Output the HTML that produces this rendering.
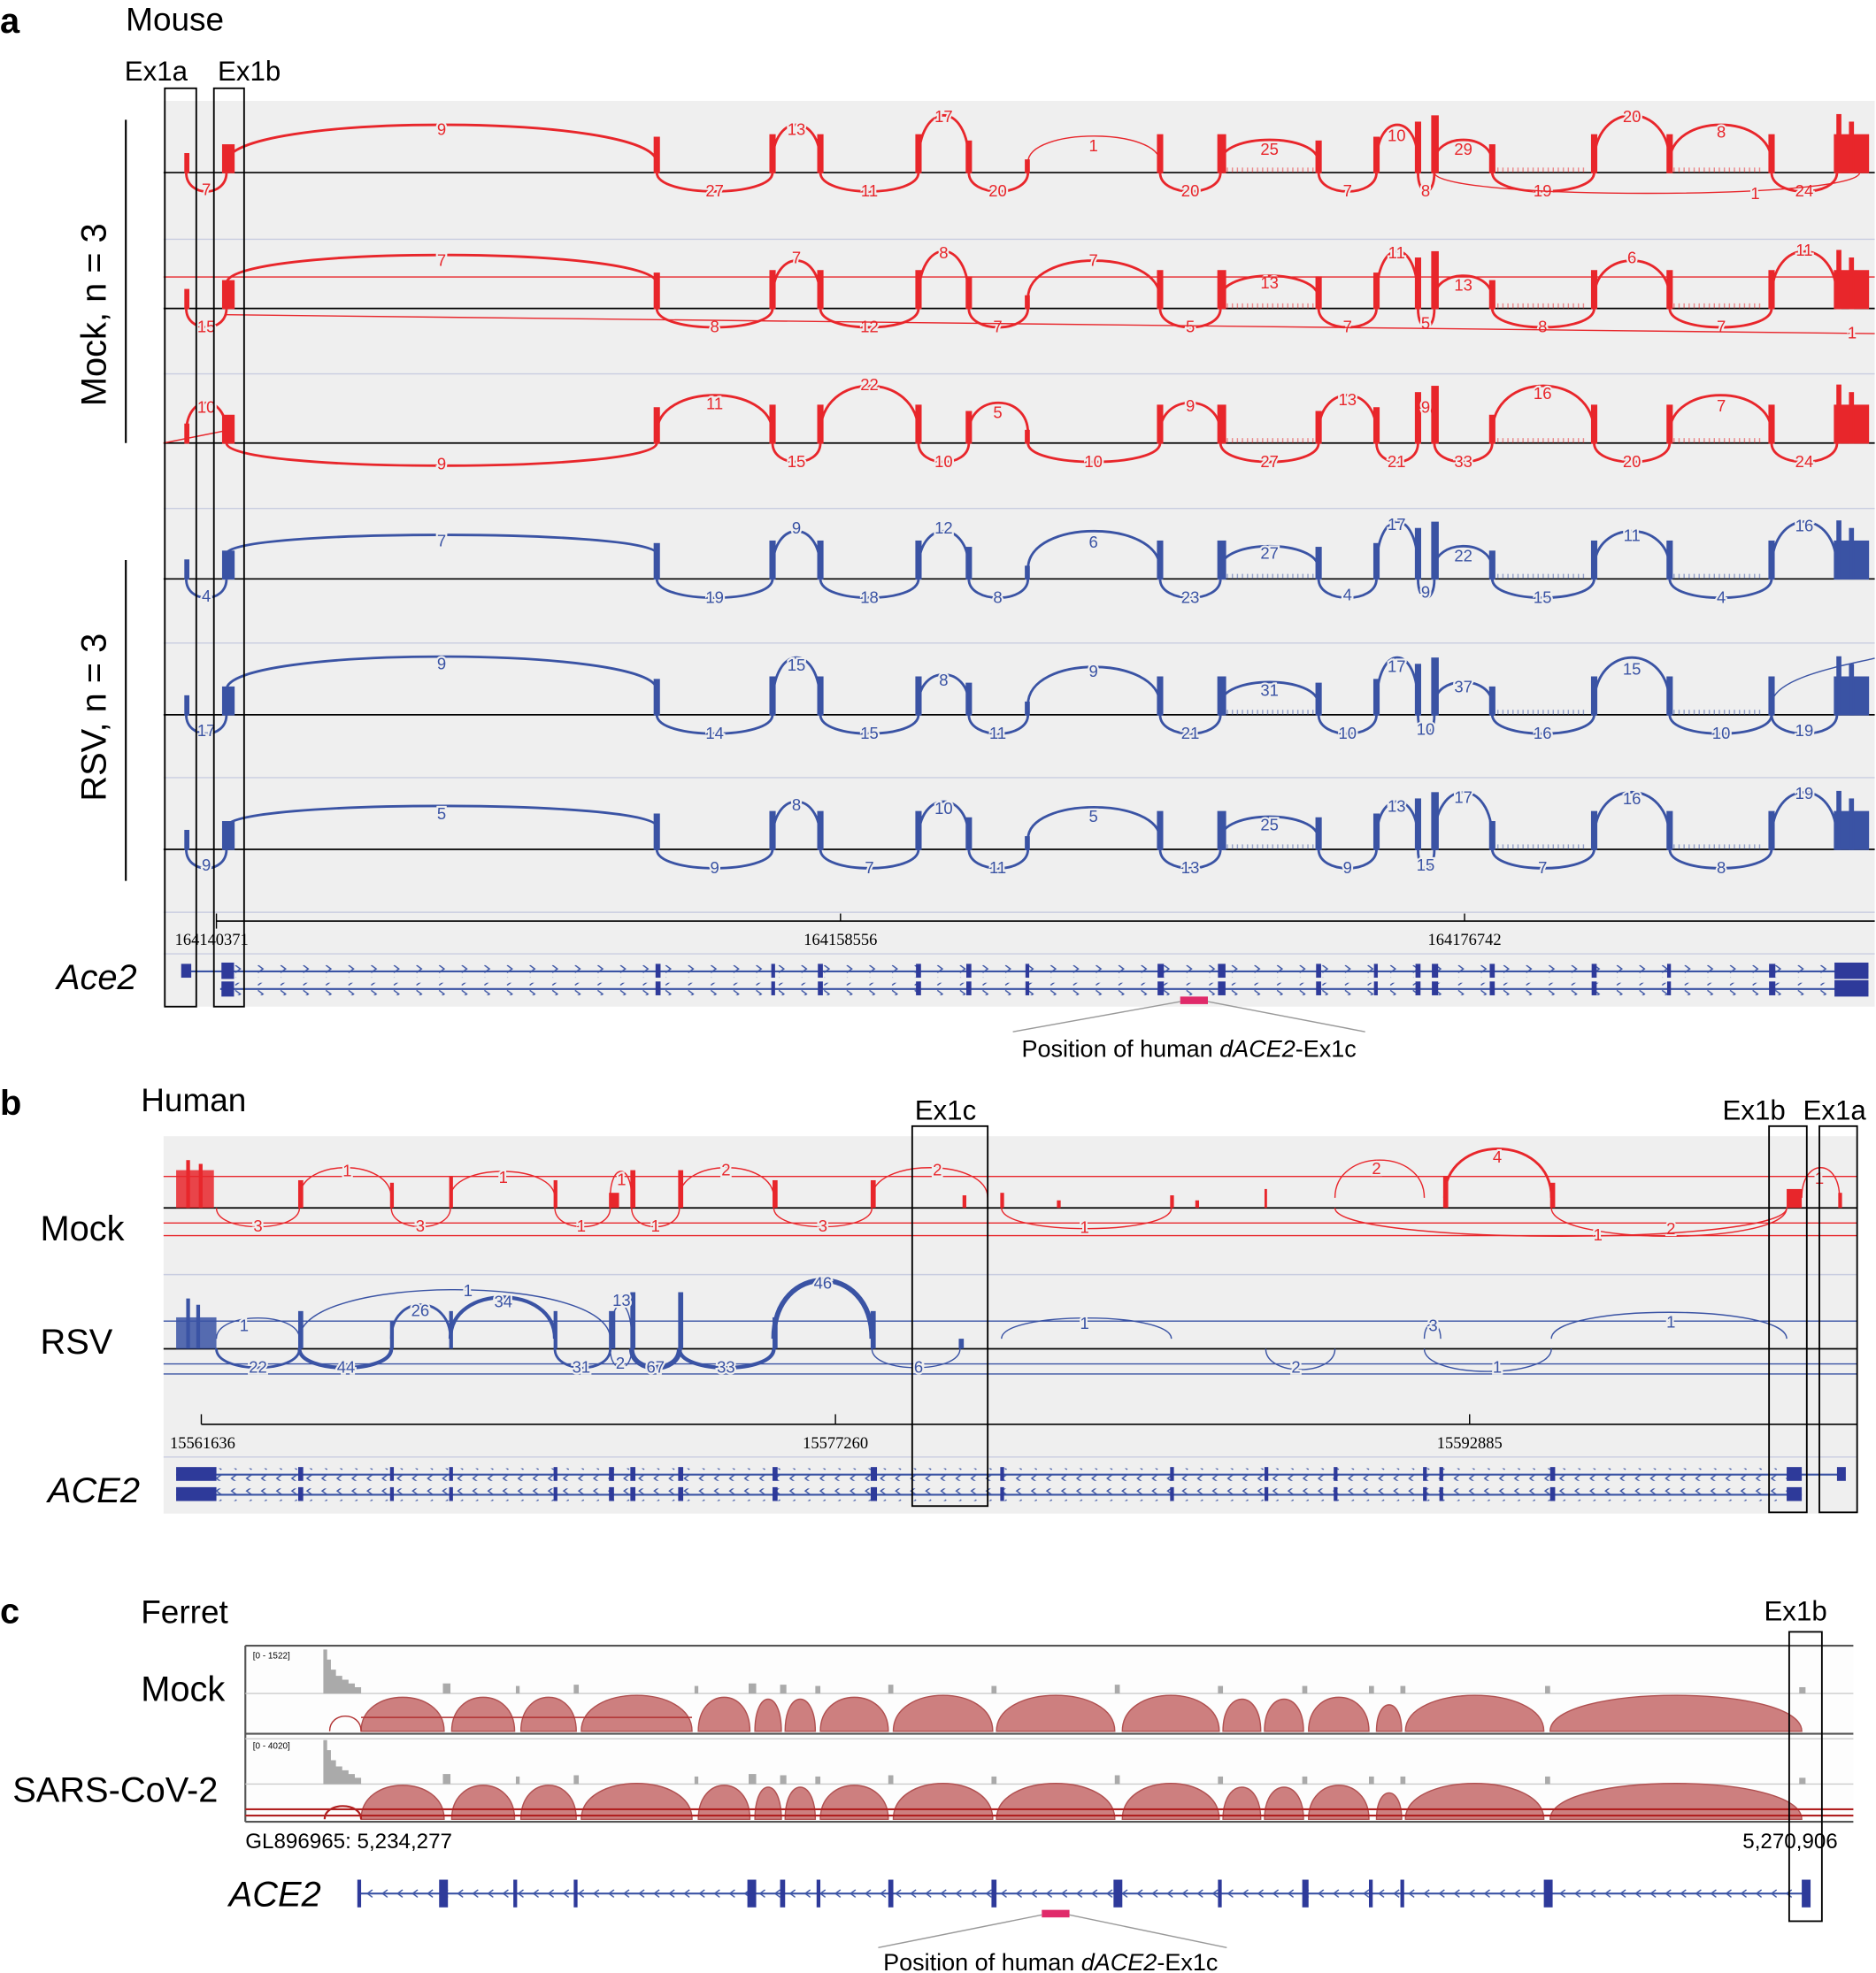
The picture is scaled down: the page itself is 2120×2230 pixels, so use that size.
<!DOCTYPE html>
<html><head><meta charset="utf-8"><style>
html,body{margin:0;padding:0;background:#fff}
svg{display:block}
.t{font-family:"Liberation Sans",sans-serif}
.l{font-family:"Liberation Sans",sans-serif;font-size:13px;text-anchor:middle;paint-order:stroke;stroke:#efefef;stroke-width:3px}
.r path{stroke:#e8262b;fill:none;stroke-width:2}
.r .l{fill:#e8262b}
.b path{stroke:#3a53a4;fill:none;stroke-width:2}
.b .l{fill:#3a53a4}
.tk{font-family:"Liberation Serif",serif;font-size:13px;text-anchor:middle}
</style></head><body>
<svg width="2120" height="2230" viewBox="0 0 1491 1568" xmlns="http://www.w3.org/2000/svg">
<defs>
<g id="cov">
<rect x="147" y="-15" width="3" height="15"/><rect x="177" y="-22" width="9" height="22"/><rect x="520" y="-28" width="4" height="28"/>
<rect x="612" y="-30" width="4" height="30"/><rect x="650" y="-30" width="4" height="30"/><rect x="728" y="-30" width="4" height="30"/>
<rect x="768" y="-25" width="4" height="25"/><rect x="815" y="-10" width="3" height="10"/><rect x="920" y="-30" width="4" height="30"/>
<rect x="968" y="-30" width="6" height="30"/><rect x="1046" y="-25" width="4" height="25"/><rect x="1092" y="-28" width="4" height="28"/>
<rect x="1125" y="-40" width="4" height="40"/><rect x="1138" y="-45" width="5" height="45"/><rect x="1184" y="-22" width="4" height="22"/>
<rect x="1265" y="-30" width="4" height="30"/><rect x="1325" y="-30" width="4" height="30"/><rect x="1406" y="-30" width="4" height="30"/>
<rect x="1458" y="-30" width="27" height="30"/><rect x="1460" y="-46" width="3" height="46"/><rect x="1470" y="-40" width="3" height="40"/>
<path d="M1190 -2H1260M1330 -2H1400M975 -2H1045" stroke-dasharray="1 3" stroke-width="4" opacity=".5"/>
</g>
<pattern id="ar" width="18" height="10" patternUnits="userSpaceOnUse" y="-5"><path d="M7 2 L11 5 L7 8" stroke="#3a53a4" fill="none" stroke-width="1"/></pattern>
<pattern id="al" width="12" height="10" patternUnits="userSpaceOnUse"><path d="M8 2 L4 5 L8 8" stroke="#3a53a4" fill="none" stroke-width="1"/></pattern>
</defs>

<!-- PANEL A -->
<text x="0" y="26" class="t" font-size="28" font-weight="bold">a</text>
<text x="100" y="24" class="t" font-size="26">Mouse</text>
<text x="99" y="64" class="t" font-size="22">Ex1a</text>
<text x="173" y="64" class="t" font-size="22">Ex1b</text>
<rect x="130" y="80" width="1360" height="720" fill="#efefef"/>
<g stroke="#c9cde0" stroke-width="1">
<line x1="130" y1="190" x2="1490" y2="190"/><line x1="130" y1="297" x2="1490" y2="297"/><line x1="130" y1="404" x2="1490" y2="404"/>
<line x1="130" y1="511" x2="1490" y2="511"/><line x1="130" y1="618" x2="1490" y2="618"/><line x1="130" y1="725" x2="1490" y2="725"/><line x1="130" y1="758" x2="1490" y2="758"/></g>
<g stroke="#000" stroke-width="1.2">
<line x1="130" y1="137" x2="1490" y2="137"/><line x1="130" y1="245" x2="1490" y2="245"/><line x1="130" y1="352" x2="1490" y2="352"/>
<line x1="130" y1="460" x2="1490" y2="460"/><line x1="130" y1="568" x2="1490" y2="568"/><line x1="130" y1="675" x2="1490" y2="675"/></g>
<line x1="100" y1="95" x2="100" y2="352" stroke="#000" stroke-width="1.5"/>
<line x1="100" y1="445" x2="100" y2="700" stroke="#000" stroke-width="1.5"/>
<text transform="translate(84,250) rotate(-90)" class="t" font-size="28" text-anchor="middle">Mock, n = 3</text>
<text transform="translate(84,570) rotate(-90)" class="t" font-size="28" text-anchor="middle">RSV, n = 3</text>

<g class="r" transform="translate(0,137)"><use href="#cov" fill="#e8262b" stroke="#e8262b"/>
<path d="M180 -8C180 -48 522 -48 522 -8"/><text class="l" x="351" y="-30">9</text>
<path d="M614 -8C614 -48 652 -48 652 -8"/><text class="l" x="633" y="-30">13</text>
<path d="M730 -8C730 -58 770 -58 770 -8"/><text class="l" x="750" y="-40">17</text>
<path d="M817 -8C817 -36 922 -36 922 -8" style="stroke-width:1"/><text class="l" x="869" y="-17">1</text>
<path d="M970 -8C970 -32 1048 -32 1048 -8"/><text class="l" x="1009" y="-14">25</text>
<path d="M1094 -8C1094 -48 1127 -48 1127 -8"/><text class="l" x="1110" y="-25">10</text>
<path d="M1140 -8C1140 -32 1186 -32 1186 -8"/><text class="l" x="1163" y="-14">29</text>
<path d="M1267 -8C1267 -58 1327 -58 1327 -8"/><text class="l" x="1297" y="-40">20</text>
<path d="M1327 -8C1327 -48 1408 -48 1408 -8"/><text class="l" x="1368" y="-28">8</text>
<path d="M148 0C148 20 180 20 180 0"/><text class="l" x="164" y="18">7</text>
<path d="M522 0C522 20 614 20 614 0"/><text class="l" x="568" y="19">27</text>
<path d="M652 0C652 20 730 20 730 0"/><text class="l" x="691" y="19">11</text>
<path d="M770 0C770 20 817 20 817 0"/><text class="l" x="793" y="19">20</text>
<path d="M922 0C922 20 970 20 970 0"/><text class="l" x="946" y="19">20</text>
<path d="M1048 0C1048 20 1094 20 1094 0"/><text class="l" x="1071" y="19">7</text>
<path d="M1127 0C1127 20 1140 20 1140 0"/><text class="l" x="1133" y="19">8</text>
<path d="M1186 0C1186 20 1267 20 1267 0"/><text class="l" x="1226" y="19">19</text>
<path d="M1408 0C1408 20 1460 20 1460 0"/><text class="l" x="1434" y="19">24</text>
<path d="M1140 0C1140 22 1478 22 1478 0" style="stroke-width:1"/><text class="l" x="1395" y="21">1</text>
</g>
<g class="r" transform="translate(0,245)"><use href="#cov" fill="#e8262b" stroke="#e8262b"/>
<path d="M180 -20C180 -50 522 -50 522 -20"/><text class="l" x="351" y="-34">7</text>
<path d="M614 -8C614 -48 652 -48 652 -8"/><text class="l" x="633" y="-36">7</text>
<path d="M730 -8C730 -58 770 -58 770 -8"/><text class="l" x="750" y="-40">8</text>
<path d="M817 -8C817 -48 922 -48 922 -8"/><text class="l" x="869" y="-34">7</text>
<path d="M970 -8C970 -32 1048 -32 1048 -8"/><text class="l" x="1009" y="-16">13</text>
<path d="M1094 -8C1094 -58 1127 -58 1127 -8"/><text class="l" x="1110" y="-40">11</text>
<path d="M1140 -8C1140 -32 1186 -32 1186 -8"/><text class="l" x="1163" y="-14">13</text>
<path d="M1267 -8C1267 -48 1327 -48 1327 -8"/><text class="l" x="1297" y="-36">6</text>
<path d="M1408 -8C1408 -58 1460 -58 1460 -8"/><text class="l" x="1434" y="-42">11</text>
<path d="M130 -25L1490 -25" style="stroke-width:1"/>
<path d="M148 0C148 20 180 20 180 0"/><text class="l" x="164" y="19">15</text>
<path d="M522 0C522 20 614 20 614 0"/><text class="l" x="568" y="19">8</text>
<path d="M652 0C652 20 730 20 730 0"/><text class="l" x="691" y="19">12</text>
<path d="M770 0C770 20 817 20 817 0"/><text class="l" x="793" y="19">7</text>
<path d="M922 0C922 20 970 20 970 0"/><text class="l" x="946" y="19">5</text>
<path d="M1048 0C1048 20 1094 20 1094 0"/><text class="l" x="1071" y="19">7</text>
<path d="M1127 0C1127 20 1140 20 1140 0"/><text class="l" x="1133" y="16">5</text>
<path d="M1186 0C1186 20 1267 20 1267 0"/><text class="l" x="1226" y="19">8</text>
<path d="M1327 0C1327 20 1408 20 1408 0"/><text class="l" x="1368" y="19">7</text>
<path d="M180 5L1490 20" style="stroke-width:1"/><text class="l" x="1472" y="24">1</text>
</g>
<g class="r" transform="translate(0,352)"><use href="#cov" fill="#e8262b" stroke="#e8262b"/>
<path d="M522 -8C522 -48 614 -48 614 -8"/><text class="l" x="568" y="-27">11</text>
<path d="M652 -8C652 -58 730 -58 730 -8"/><text class="l" x="691" y="-42">22</text>
<path d="M770 -8C770 -40 817 -40 817 -8"/><text class="l" x="793" y="-20">5</text>
<path d="M922 -8C922 -40 970 -40 970 -8"/><text class="l" x="946" y="-25">9</text>
<path d="M1048 -8C1048 -48 1094 -48 1094 -8"/><text class="l" x="1071" y="-30">13</text>
<path d="M1127 -8C1127 -40 1140 -40 1140 -8"/><text class="l" x="1133" y="-24">9</text>
<path d="M1186 -8C1186 -58 1267 -58 1267 -8"/><text class="l" x="1226" y="-35">16</text>
<path d="M1327 -8C1327 -48 1408 -48 1408 -8"/><text class="l" x="1368" y="-25">7</text>
<path d="M148 -8C148 -40 180 -40 180 -8"/><text class="l" x="164" y="-24">10</text>
<path d="M180 0C180 24 522 24 522 0"/><text class="l" x="351" y="21">9</text>
<path d="M614 0C614 20 652 20 652 0"/><text class="l" x="633" y="19">15</text>
<path d="M730 0C730 20 770 20 770 0"/><text class="l" x="750" y="19">10</text>
<path d="M817 0C817 20 922 20 922 0"/><text class="l" x="869" y="19">10</text>
<path d="M970 0C970 20 1048 20 1048 0"/><text class="l" x="1009" y="19">27</text>
<path d="M1094 0C1094 20 1127 20 1127 0"/><text class="l" x="1110" y="19">21</text>
<path d="M1140 0C1140 20 1186 20 1186 0"/><text class="l" x="1163" y="19">33</text>
<path d="M1267 0C1267 20 1327 20 1327 0"/><text class="l" x="1297" y="19">20</text>
<path d="M1408 0C1408 20 1460 20 1460 0"/><text class="l" x="1434" y="19">24</text>
<path d="M130 0L180 -10" style="stroke-width:1"/>
</g>
<g class="b" transform="translate(0,460)"><use href="#cov" fill="#3a53a4" stroke="#3a53a4"/>
<path d="M180 -20C180 -40 522 -40 522 -20"/><text class="l" x="351" y="-26">7</text>
<path d="M614 -8C614 -48 652 -48 652 -8"/><text class="l" x="633" y="-36">9</text>
<path d="M730 -8C730 -48 770 -48 770 -8"/><text class="l" x="750" y="-36">12</text>
<path d="M817 -8C817 -48 922 -48 922 -8"/><text class="l" x="869" y="-25">6</text>
<path d="M970 -8C970 -32 1048 -32 1048 -8"/><text class="l" x="1009" y="-16">27</text>
<path d="M1094 -8C1094 -58 1127 -58 1127 -8"/><text class="l" x="1110" y="-39">17</text>
<path d="M1140 -8C1140 -32 1186 -32 1186 -8"/><text class="l" x="1163" y="-14">22</text>
<path d="M1267 -8C1267 -48 1327 -48 1327 -8"/><text class="l" x="1297" y="-30">11</text>
<path d="M1408 -8C1408 -58 1460 -58 1460 -8"/><text class="l" x="1434" y="-38">16</text>
<path d="M148 0C148 20 180 20 180 0"/><text class="l" x="164" y="18">4</text>
<path d="M522 0C522 20 614 20 614 0"/><text class="l" x="568" y="19">19</text>
<path d="M652 0C652 20 730 20 730 0"/><text class="l" x="691" y="19">18</text>
<path d="M770 0C770 20 817 20 817 0"/><text class="l" x="793" y="19">8</text>
<path d="M922 0C922 20 970 20 970 0"/><text class="l" x="946" y="19">23</text>
<path d="M1048 0C1048 20 1094 20 1094 0"/><text class="l" x="1071" y="17">4</text>
<path d="M1127 0C1127 20 1140 20 1140 0"/><text class="l" x="1133" y="15">9</text>
<path d="M1186 0C1186 20 1267 20 1267 0"/><text class="l" x="1226" y="19">15</text>
<path d="M1327 0C1327 20 1408 20 1408 0"/><text class="l" x="1368" y="19">4</text>
</g>
<g class="b" transform="translate(0,568)"><use href="#cov" fill="#3a53a4" stroke="#3a53a4"/>
<path d="M180 -20C180 -55 522 -55 522 -20"/><text class="l" x="351" y="-36">9</text>
<path d="M614 -8C614 -58 652 -58 652 -8"/><text class="l" x="633" y="-35">15</text>
<path d="M730 -8C730 -40 770 -40 770 -8"/><text class="l" x="750" y="-23">8</text>
<path d="M817 -8C817 -48 922 -48 922 -8"/><text class="l" x="869" y="-30">9</text>
<path d="M970 -8C970 -32 1048 -32 1048 -8"/><text class="l" x="1009" y="-15">31</text>
<path d="M1094 -8C1094 -58 1127 -58 1127 -8"/><text class="l" x="1110" y="-34">17</text>
<path d="M1140 -8C1140 -32 1186 -32 1186 -8"/><text class="l" x="1163" y="-18">37</text>
<path d="M1267 -8C1267 -58 1327 -58 1327 -8"/><text class="l" x="1297" y="-32">15</text>
<path d="M1408 -8C1408 -30 1470 -40 1490 -45" style="stroke-width:1"/>
<path d="M148 0C148 20 180 20 180 0"/><text class="l" x="164" y="17">17</text>
<path d="M522 0C522 20 614 20 614 0"/><text class="l" x="568" y="19">14</text>
<path d="M652 0C652 20 730 20 730 0"/><text class="l" x="691" y="19">15</text>
<path d="M770 0C770 20 817 20 817 0"/><text class="l" x="793" y="19">11</text>
<path d="M922 0C922 20 970 20 970 0"/><text class="l" x="946" y="19">21</text>
<path d="M1048 0C1048 20 1094 20 1094 0"/><text class="l" x="1071" y="19">10</text>
<path d="M1127 0C1127 20 1140 20 1140 0"/><text class="l" x="1133" y="16">10</text>
<path d="M1186 0C1186 20 1267 20 1267 0"/><text class="l" x="1226" y="19">16</text>
<path d="M1327 0C1327 20 1408 20 1408 0"/><text class="l" x="1368" y="19">10</text>
<path d="M1408 0C1408 20 1460 20 1460 0"/><text class="l" x="1434" y="17">19</text>
</g>
<g class="b" transform="translate(0,675)"><use href="#cov" fill="#3a53a4" stroke="#3a53a4"/>
<path d="M180 -18C180 -40 522 -40 522 -18"/><text class="l" x="351" y="-24">5</text>
<path d="M614 -8C614 -48 652 -48 652 -8"/><text class="l" x="633" y="-31">8</text>
<path d="M730 -8C730 -48 770 -48 770 -8"/><text class="l" x="750" y="-28">10</text>
<path d="M817 -8C817 -42 922 -42 922 -8"/><text class="l" x="869" y="-22">5</text>
<path d="M970 -8C970 -32 1048 -32 1048 -8"/><text class="l" x="1009" y="-15">25</text>
<path d="M1094 -8C1094 -48 1127 -48 1127 -8"/><text class="l" x="1110" y="-30">13</text>
<path d="M1140 -8C1140 -58 1186 -58 1186 -8"/><text class="l" x="1163" y="-37">17</text>
<path d="M1267 -8C1267 -58 1327 -58 1327 -8"/><text class="l" x="1297" y="-36">16</text>
<path d="M1408 -8C1408 -58 1460 -58 1460 -8"/><text class="l" x="1434" y="-40">19</text>
<path d="M148 0C148 20 180 20 180 0"/><text class="l" x="164" y="17">9</text>
<path d="M522 0C522 20 614 20 614 0"/><text class="l" x="568" y="19">9</text>
<path d="M652 0C652 20 730 20 730 0"/><text class="l" x="691" y="19">7</text>
<path d="M770 0C770 20 817 20 817 0"/><text class="l" x="793" y="19">11</text>
<path d="M922 0C922 20 970 20 970 0"/><text class="l" x="946" y="19">13</text>
<path d="M1048 0C1048 20 1094 20 1094 0"/><text class="l" x="1071" y="19">9</text>
<path d="M1127 0C1127 20 1140 20 1140 0"/><text class="l" x="1133" y="17">15</text>
<path d="M1186 0C1186 20 1267 20 1267 0"/><text class="l" x="1226" y="19">7</text>
<path d="M1327 0C1327 20 1408 20 1408 0"/><text class="l" x="1368" y="19">8</text>
</g>

<line x1="172" y1="732" x2="1490" y2="732" stroke="#000" stroke-width="1.2"/>
<g stroke="#000"><line x1="172" y1="726" x2="172" y2="738"/><line x1="668" y1="726" x2="668" y2="732"/><line x1="1164" y1="726" x2="1164" y2="732"/></g>
<text x="139" y="751" class="tk" style="text-anchor:start">164140371</text>
<text x="668" y="751" class="tk">164158556</text>
<text x="1164" y="751" class="tk">164176742</text>
<text x="45" y="786" class="t" font-size="28" font-style="italic">Ace2</text>
<rect x="175" y="767" width="1310" height="10" fill="url(#ar)"/>
<rect x="175" y="781" width="1310" height="10" fill="url(#ar)"/>
<line x1="145" y1="772" x2="1485" y2="772" stroke="#3a53a4" stroke-width="1.5"/>
<line x1="175" y1="786" x2="1485" y2="786" stroke="#3a53a4" stroke-width="1.5"/>
<g fill="#2e3a9a">
<rect x="144" y="766" width="8" height="11"/><rect x="176" y="765" width="10" height="13"/><rect x="176" y="780" width="10" height="12"/>
<g id="mex"><rect x="521" y="766" width="4" height="11"/><rect x="613" y="766" width="3" height="11"/><rect x="650" y="766" width="4" height="11"/>
<rect x="728" y="766" width="4" height="11"/><rect x="768" y="766" width="4" height="11"/><rect x="815" y="766" width="3" height="11"/>
<rect x="920" y="766" width="5" height="11"/><rect x="968" y="766" width="6" height="11"/><rect x="1046" y="766" width="4" height="11"/>
<rect x="1092" y="766" width="3" height="11"/><rect x="1125" y="766" width="4" height="11"/><rect x="1138" y="766" width="5" height="11"/>
<rect x="1184" y="766" width="4" height="11"/><rect x="1265" y="766" width="4" height="11"/><rect x="1325" y="766" width="3" height="11"/>
<rect x="1406" y="766" width="5" height="11"/><rect x="1458" y="765" width="27" height="13"/></g>
<use href="#mex" y="14"/></g>
<rect x="938" y="792" width="22" height="6" fill="#e02a6a"/>
<path d="M938 796L805 820M960 796L1085 820" stroke="#999" fill="none"/>
<text x="945" y="840" class="t" font-size="19" text-anchor="middle">Position of human <tspan font-style="italic">dACE2</tspan>-Ex1c</text>
<rect x="131" y="70" width="25" height="730" fill="none" stroke="#000" stroke-width="1.3"/>
<rect x="170" y="70" width="24" height="730" fill="none" stroke="#000" stroke-width="1.3"/>

<!-- PANEL B -->
<text x="0" y="886" class="t" font-size="28" font-weight="bold">b</text>
<text x="112" y="883" class="t" font-size="26">Human</text>
<text x="727" y="890" class="t" font-size="22">Ex1c</text>
<text x="1369" y="890" class="t" font-size="22">Ex1b</text>
<text x="1433" y="890" class="t" font-size="22">Ex1a</text>
<rect x="130" y="903" width="1346" height="300" fill="#efefef"/>
<g stroke="#c9cde0"><line x1="130" y1="1013" x2="1476" y2="1013"/><line x1="130" y1="1158" x2="1476" y2="1158"/></g>
<g stroke="#000" stroke-width="1.2"><line x1="130" y1="960" x2="1476" y2="960"/><line x1="130" y1="1072" x2="1476" y2="1072"/></g>
<text x="32" y="986" class="t" font-size="28">Mock</text>
<text x="32" y="1076" class="t" font-size="28">RSV</text>
<g class="r" transform="translate(0,960)">
<g fill="#e8262b"><rect x="140" y="-30" width="30" height="30" opacity=".85"/><rect x="148" y="-38" width="3" height="38"/><rect x="158" y="-35" width="3" height="35"/>
<rect x="237" y="-22" width="4" height="22"/><rect x="310" y="-20" width="3" height="20"/><rect x="357" y="-25" width="3" height="25"/>
<rect x="440" y="-22" width="3" height="22"/><rect x="484" y="-12" width="8" height="12"/><rect x="501" y="-30" width="4" height="30"/>
<rect x="539" y="-30" width="4" height="30"/><rect x="614" y="-22" width="4" height="22"/><rect x="692" y="-22" width="4" height="22"/>
<rect x="765" y="-10" width="3" height="10"/><rect x="795" y="-12" width="3" height="12"/><rect x="930" y="-10" width="3" height="10"/>
<rect x="1005" y="-15" width="2" height="15"/><rect x="1147" y="-25" width="4" height="25"/><rect x="1232" y="-20" width="4" height="20"/>
<rect x="1420" y="-15" width="12" height="15"/><rect x="1461" y="-12" width="3" height="12"/><rect x="840" y="-6" width="3" height="6"/><rect x="950" y="-6" width="3" height="6"/></g>
<path d="M130 -25L1476 -25" style="stroke-width:1"/><path d="M130 12L1476 12" style="stroke-width:1"/><path d="M130 22L1476 22" style="stroke-width:1"/>
<path d="M238 -8C238 -40 311 -40 311 -8" style="stroke-width:1"/><text class="l" x="276" y="-25">1</text>
<path d="M358 -8C358 -36 441 -36 441 -8" style="stroke-width:1"/><text class="l" x="400" y="-20">1</text>
<path d="M485 -8C485 -36 502 -36 502 -8" style="stroke-width:1"/><text class="l" x="494" y="-18">1</text>
<path d="M540 -8C540 -40 615 -40 615 -8" style="stroke-width:1"/><text class="l" x="577" y="-26">2</text>
<path d="M693 -8C693 -40 785 -40 785 -8" style="stroke-width:1"/><text class="l" x="745" y="-26">2</text>
<path d="M1061 -8C1061 -48 1132 -48 1132 -8" style="stroke-width:1"/><text class="l" x="1094" y="-27">2</text>
<path d="M1148 -8C1148 -60 1233 -60 1233 -8"/><text class="l" x="1190" y="-36">4</text>
<path d="M1432 -8C1432 -40 1462 -40 1462 -8" style="stroke-width:1"/><text class="l" x="1446" y="-19">1</text>
<path d="M172 0C172 20 238 20 238 0" style="stroke-width:1"/><text class="l" x="205" y="19">3</text>
<path d="M311 0C311 20 358 20 358 0" style="stroke-width:1"/><text class="l" x="334" y="19">3</text>
<path d="M441 0C441 20 485 20 485 0" style="stroke-width:1"/><text class="l" x="462" y="19">1</text>
<path d="M502 0C502 20 540 20 540 0" style="stroke-width:1"/><text class="l" x="521" y="19">1</text>
<path d="M615 0C615 20 693 20 693 0" style="stroke-width:1"/><text class="l" x="654" y="19">3</text>
<path d="M796 0C796 22 931 22 931 0" style="stroke-width:1"/><text class="l" x="862" y="20">1</text>
<path d="M1233 0C1233 30 1420 30 1420 0" style="stroke-width:1"/><text class="l" x="1328" y="21">2</text>
<path d="M1061 0C1061 30 1420 30 1420 0" style="stroke-width:1"/><text class="l" x="1270" y="26">1</text>
</g>
<g class="b" transform="translate(0,1072)">
<g fill="#3a53a4"><rect x="140" y="-25" width="32" height="25" opacity=".85"/><rect x="148" y="-40" width="3" height="40"/><rect x="156" y="-35" width="3" height="35"/>
<rect x="237" y="-30" width="4" height="30"/><rect x="310" y="-22" width="3" height="22"/><rect x="357" y="-30" width="3" height="30"/>
<rect x="440" y="-30" width="3" height="30"/><rect x="484" y="-30" width="5" height="30"/><rect x="501" y="-45" width="4" height="45"/>
<rect x="539" y="-45" width="4" height="45"/><rect x="614" y="-25" width="4" height="25"/><rect x="692" y="-30" width="4" height="30"/><rect x="762" y="-8" width="4" height="8"/></g>
<path d="M130 -22L1476 -22" style="stroke-width:1"/><path d="M130 12L1476 12" style="stroke-width:1"/><path d="M130 20L1476 20" style="stroke-width:1"/>
<path d="M172 -8C172 -30 238 -30 238 -8" style="stroke-width:1"/><text class="l" x="194" y="-14">1</text>
<path d="M238 -8C238 -60 485 -60 485 -8" style="stroke-width:1"/><text class="l" x="372" y="-42">1</text>
<path d="M311 -8C311 -44 358 -44 358 -8"/><text class="l" x="334" y="-26">26</text>
<path d="M358 -8C358 -52 441 -52 441 -8" style="stroke-width:3"/><text class="l" x="400" y="-33">34</text>
<path d="M485 -8C485 -44 502 -44 502 -8" style="stroke-width:1"/><text class="l" x="494" y="-34">13</text>
<path d="M615 -8C615 -70 693 -70 693 -8" style="stroke-width:4"/><text class="l" x="654" y="-48">46</text>
<path d="M796 -8C796 -30 931 -30 931 -8" style="stroke-width:1"/><text class="l" x="862" y="-16">1</text>
<path d="M1132 -8C1132 -24 1145 -24 1145 -8" style="stroke-width:1"/><text class="l" x="1139" y="-14">3</text>
<path d="M1233 -8C1233 -36 1420 -36 1420 -8" style="stroke-width:1"/><text class="l" x="1328" y="-17">1</text>
<path d="M172 0C172 20 238 20 238 0"/><text class="l" x="205" y="19">22</text>
<path d="M238 0C238 20 311 20 311 0" style="stroke-width:3"/><text class="l" x="275" y="19">44</text>
<path d="M441 0C441 20 485 20 485 0"/><text class="l" x="462" y="19">31</text>
<path d="M485 0C485 20 502 20 502 0" style="stroke-width:1"/><text class="l" x="493" y="16">2</text>
<path d="M502 0C502 20 540 20 540 0" style="stroke-width:4"/><text class="l" x="521" y="19">67</text>
<path d="M540 0C540 20 615 20 615 0" style="stroke-width:3"/><text class="l" x="577" y="19">33</text>
<path d="M693 0C693 20 763 20 763 0" style="stroke-width:1"/><text class="l" x="730" y="19">6</text>
<path d="M1006 0C1006 22 1061 22 1061 0" style="stroke-width:1"/><text class="l" x="1030" y="19">2</text>
<path d="M1132 0C1132 24 1233 24 1233 0" style="stroke-width:1"/><text class="l" x="1190" y="19">1</text>
</g>
<line x1="160" y1="1132" x2="1476" y2="1132" stroke="#000" stroke-width="1.2"/>
<g stroke="#000"><line x1="160" y1="1124" x2="160" y2="1132"/><line x1="664" y1="1124" x2="664" y2="1132"/><line x1="1168" y1="1124" x2="1168" y2="1132"/></g>
<text x="161" y="1151" class="tk">15561636</text>
<text x="664" y="1151" class="tk">15577260</text>
<text x="1168" y="1151" class="tk">15592885</text>
<text x="38" y="1194" class="t" font-size="28" font-style="italic">ACE2</text>
<rect x="172" y="1167" width="1250" height="10" fill="url(#al)"/>
<rect x="172" y="1183" width="1250" height="10" fill="url(#al)"/>
<line x1="140" y1="1172" x2="1466" y2="1172" stroke="#3a53a4" stroke-width="1.5"/>
<line x1="140" y1="1188" x2="1432" y2="1188" stroke="#3a53a4" stroke-width="1.5"/>
<g fill="#2e3a9a"><g id="hex">
<rect x="140" y="1166" width="32" height="11"/><rect x="237" y="1166" width="4" height="11"/><rect x="310" y="1166" width="3" height="11"/>
<rect x="357" y="1166" width="3" height="11"/><rect x="440" y="1166" width="3" height="11"/><rect x="484" y="1166" width="4" height="11"/>
<rect x="501" y="1166" width="4" height="11"/><rect x="539" y="1166" width="4" height="11"/><rect x="614" y="1166" width="4" height="11"/>
<rect x="692" y="1166" width="5" height="11"/><rect x="795" y="1166" width="3" height="11"/><rect x="930" y="1166" width="3" height="11"/>
<rect x="1005" y="1166" width="3" height="11"/><rect x="1060" y="1166" width="3" height="11"/><rect x="1131" y="1166" width="3" height="11"/>
<rect x="1144" y="1166" width="3" height="11"/><rect x="1232" y="1166" width="4" height="11"/><rect x="1420" y="1166" width="12" height="11"/></g>
<use href="#hex" y="16"/><rect x="1460" y="1166" width="7" height="11"/></g>
<rect x="725" y="895" width="60" height="302" fill="none" stroke="#000" stroke-width="1.3"/>
<rect x="1406" y="895" width="30" height="307" fill="none" stroke="#000" stroke-width="1.3"/>
<rect x="1446" y="895" width="30" height="307" fill="none" stroke="#000" stroke-width="1.3"/>

<!-- PANEL C -->
<text x="0" y="1290" class="t" font-size="28" font-weight="bold">c</text>
<text x="112" y="1290" class="t" font-size="26">Ferret</text>
<text x="1402" y="1288" class="t" font-size="22">Ex1b</text>
<rect x="195" y="1308" width="1278" height="140" fill="#fdfdfd"/>
<g stroke="#555" stroke-width="1.5"><line x1="195" y1="1308" x2="1473" y2="1308"/><line x1="195" y1="1378" x2="1473" y2="1378"/><line x1="195" y1="1448" x2="1473" y2="1448"/><line x1="195" y1="1308" x2="195" y2="1448"/></g>
<g stroke="#ccc"><line x1="195" y1="1346" x2="1473" y2="1346"/><line x1="195" y1="1382" x2="1473" y2="1382"/><line x1="195" y1="1418" x2="1473" y2="1418"/></g>
<text x="201" y="1318" class="t" font-size="7">[0 - 1522]</text>
<text x="201" y="1390" class="t" font-size="7">[0 - 4020]</text>
<text x="112" y="1352" class="t" font-size="28">Mock</text>
<text x="10" y="1432" class="t" font-size="28">SARS-CoV-2</text>
<g id="gcov" fill="#aaa">
<path d="M257 1346V1311h3v8h3v8h4v5h5v3h5v3h5v3h5v5z"/>
<rect x="352" y="1338" width="6" height="8"/><rect x="410" y="1340" width="3" height="6"/><rect x="456" y="1339" width="4" height="7"/>
<rect x="552" y="1340" width="3" height="6"/><rect x="595" y="1338" width="6" height="8"/><rect x="620" y="1339" width="5" height="7"/><rect x="648" y="1340" width="4" height="6"/>
<rect x="706" y="1339" width="4" height="7"/><rect x="788" y="1340" width="4" height="6"/><rect x="886" y="1339" width="4" height="7"/><rect x="968" y="1340" width="4" height="6"/>
<rect x="1035" y="1340" width="4" height="6"/><rect x="1088" y="1340" width="4" height="6"/><rect x="1113" y="1340" width="4" height="6"/><rect x="1228" y="1340" width="4" height="6"/><rect x="1430" y="1341" width="5" height="5"/></g>
<use href="#gcov" y="72"/>
<g id="farc" fill="#cd7f7f" stroke="#b05050" stroke-width="1">
<path d="M287 1376C287 1340 353 1340 353 1376Z"/><path d="M359 1376C359 1340 409 1340 409 1376Z"/><path d="M414 1376C414 1340 458 1340 458 1376Z"/>
<path d="M462 1376C462 1338 550 1338 550 1376Z"/><path d="M555 1376C555 1340 596 1340 596 1376Z"/><path d="M600 1376C600 1342 621 1342 621 1376Z"/>
<path d="M624 1376C624 1342 648 1342 648 1376Z"/><path d="M652 1376C652 1340 706 1340 706 1376Z"/><path d="M710 1376C710 1338 789 1338 789 1376Z"/>
<path d="M792 1376C792 1338 886 1338 886 1376Z"/><path d="M892 1376C892 1338 969 1338 969 1376Z"/><path d="M972 1376C972 1342 1002 1342 1002 1376Z"/>
<path d="M1005 1376C1005 1342 1036 1342 1036 1376Z"/><path d="M1040 1376C1040 1340 1088 1340 1088 1376Z"/><path d="M1094 1376C1094 1348 1114 1348 1114 1376Z"/>
<path d="M1117 1376C1117 1338 1227 1338 1227 1376Z"/><path d="M1232 1376C1232 1338 1432 1338 1432 1376Z"/></g>
<use href="#farc" y="70"/>
<path d="M262 1376C262 1360 287 1360 287 1376M287 1365L550 1365" stroke="#b03030" fill="none"/>
<path d="M195 1438H1473M195 1443H1473M258 1446C258 1432 287 1432 287 1446" stroke="#b02020" fill="none" stroke-width="1.5"/>
<text x="195" y="1469" class="t" font-size="17">GL896965: 5,234,277</text>
<text x="1385" y="1469" class="t" font-size="17">5,270,906</text>
<text x="182" y="1515" class="t" font-size="28" font-style="italic">ACE2</text>
<rect x="285" y="1500" width="1150" height="10" fill="url(#al)"/>
<line x1="285" y1="1505" x2="1437" y2="1505" stroke="#3a53a4" stroke-width="1.5"/>
<g fill="#2e3a9a">
<rect x="284" y="1494" width="3" height="22"/><rect x="349" y="1494" width="7" height="22"/><rect x="408" y="1494" width="3" height="22"/><rect x="456" y="1494" width="3" height="22"/>
<rect x="594" y="1494" width="7" height="22"/><rect x="620" y="1494" width="4" height="22"/><rect x="649" y="1494" width="3" height="22"/><rect x="706" y="1494" width="4" height="22"/>
<rect x="788" y="1494" width="4" height="22"/><rect x="885" y="1494" width="7" height="22"/><rect x="968" y="1494" width="3" height="22"/><rect x="1035" y="1494" width="5" height="22"/>
<rect x="1088" y="1494" width="3" height="22"/><rect x="1113" y="1494" width="3" height="22"/><rect x="1227" y="1494" width="7" height="22"/><rect x="1432" y="1494" width="7" height="22"/></g>
<rect x="828" y="1518" width="22" height="6" fill="#e02a6a"/>
<path d="M828 1522L698 1548M850 1522L975 1548" stroke="#999" fill="none"/>
<text x="835" y="1566" class="t" font-size="19" text-anchor="middle">Position of human <tspan font-style="italic">dACE2</tspan>-Ex1c</text>
<rect x="1422" y="1297" width="26" height="230" fill="none" stroke="#000" stroke-width="1.3"/>
</svg>
</body></html>
